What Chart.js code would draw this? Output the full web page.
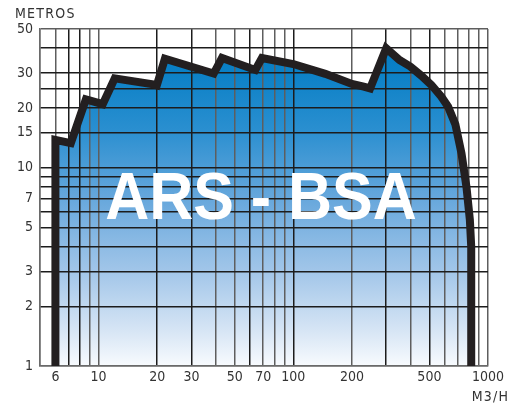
<!DOCTYPE html>
<html>
<head>
<meta charset="utf-8">
<script src="https://cdn.jsdelivr.net/npm/chart.js@4.4.1/dist/chart.umd.min.js"></script>
<style>
  html, body { margin: 0; padding: 0; background: #ffffff; }
  #wrap { position: relative; width: 518px; height: 405px; }
</style>
</head>
<body>
<div id="wrap"><canvas id="c" width="518" height="405"></canvas></div>
<script>
// Flow (M3/H) and head (METROS) along the outline of the ARS - BSA range
const flowM3h = [6, 6, 7.2, 8.6, 10.5, 12.1, 19.1, 19.9, 21.9, 39, 43, 63.8, 69, 100, 146, 200, 230, 248, 300, 351, 400, 454, 512, 576, 624, 680, 731, 775, 807, 820, 820];
const headM   = [1, 13.8, 13.3, 22.1, 20.9, 28.2, 26.3, 26, 35.4, 29.8, 35.7, 31.1, 35.7, 33.3, 29.7, 26.4, 25.6, 25.1, 40, 34.9, 32.3, 29.1, 26.1, 22.8, 20.3, 16.5, 11.8, 8, 5.45, 4, 1];

const xGridValues = [5, 6, 7, 8, 9, 10, 20, 30, 40, 50, 60, 70, 80, 90, 100, 200, 300, 400, 500, 600, 700, 800, 900, 1000];
const xTickLabels = [6, 10, 20, 30, 50, 70, 100, 200, 500, 1000];
const xGrayLines  = [5, 6, 9, 10, 40, 50, 70, 80, 90, 200, 400, 600, 700, 800, 900, 1000];

const yGridValues = [1, 2, 3, 4, 5, 6, 7, 8, 9, 10, 15, 20, 25, 30, 40, 50];
const yTickLabels = [1, 2, 3, 5, 7, 10, 15, 20, 30, 50];
const yGrayLines  = [1, 50];

const chartTitle = 'ARS - BSA';
const yAxisName = 'METROS';
const xAxisName = 'M3/H';

const tickFont = { family: "'DejaVu Sans Condensed', 'DejaVu Sans', sans-serif", size: 14 };

const textPlugin = {
  id: 'texts',
  afterDraw(chart) {
    const ctx = chart.ctx;
    ctx.save();
    ctx.fillStyle = '#333333';
    ctx.font = "14px 'DejaVu Sans Condensed', 'DejaVu Sans', sans-serif";
    ctx.textBaseline = 'middle';
    ctx.textAlign = 'left';
    ctx.fillText(yAxisName.split('').join(String.fromCharCode(8202)), 15, 14);
    ctx.textAlign = 'right';
    ctx.fillText(xAxisName.split('').join(String.fromCharCode(8202)), 508, 397);
    // big title
    ctx.translate(261, 199);
    ctx.scale(0.91, 1);
    ctx.fillStyle = '#ffffff';
    ctx.textAlign = 'center';
    ctx.textBaseline = 'middle';
    ctx.font = "bold 67px 'Liberation Sans', Arial, sans-serif";
    ctx.fillText(chartTitle, 0, 2);
    ctx.restore();
  }
};

function gridColor(grays) {
  return (c) => (c.tick && grays.includes(c.tick.value)) ? '#5e5e5e' : '#1c1c1c';
}

new Chart(document.getElementById('c'), {
  type: 'line',
  data: {
    datasets: [{
      data: flowM3h.map((x, i) => ({ x: x, y: headM[i] })),
      borderColor: '#231f20',
      borderWidth: 8,
      borderJoinStyle: 'miter',
      borderCapStyle: 'butt',
      pointRadius: 0,
      tension: 0,
      fill: 'start',
      backgroundColor: (context) => {
        const ch = context.chart;
        const a = ch.chartArea;
        if (!a) return '#3d91d2';
        const g = ch.ctx.createLinearGradient(0, a.top, 0, a.bottom);
        g.addColorStop(0, '#0079c2');
        g.addColorStop(0.12, '#0a80c6');
        g.addColorStop(0.3, '#2a8fd0');
        g.addColorStop(0.5, '#66a7dc');
        g.addColorStop(0.72, '#a2c6e9');
        g.addColorStop(0.9, '#d8e6f5');
        g.addColorStop(1, '#f8fbfe');
        return g;
      }
    }]
  },
  options: {
    responsive: false,
    animation: false,
    layout: { padding: { top: 29, right: 30, left: 0, bottom: 0 } },
    plugins: {
      legend: { display: false },
      tooltip: { enabled: false },
      filler: { drawTime: 'beforeDraw' }
    },
    scales: {
      x: {
        type: 'logarithmic',
        min: 5,
        max: 1000,
        afterBuildTicks: (s) => { s.ticks = xGridValues.map(v => ({ value: v })); },
        afterFit: (s) => { s.height = 39; },
        ticks: {
          autoSkip: false,
          maxRotation: 0,
          padding: 3,
          color: '#333333',
          font: tickFont,
          callback: (v) => xTickLabels.includes(v) ? String(v) : ''
        },
        grid: { drawTicks: false, lineWidth: 1.5, color: gridColor(xGrayLines) },
        border: { display: true, color: '#6a6a6a', width: 1.5 }
      },
      y: {
        type: 'logarithmic',
        min: 1,
        max: 50,
        afterBuildTicks: (s) => { s.ticks = yGridValues.map(v => ({ value: v })); },
        afterFit: (s) => { s.width = 40; },
        ticks: {
          autoSkip: false,
          padding: 7,
          color: '#333333',
          font: tickFont,
          callback: (v) => yTickLabels.includes(v) ? String(v) : ''
        },
        grid: { drawTicks: false, lineWidth: 1.5, color: gridColor(yGrayLines) },
        border: { display: true, color: '#6a6a6a', width: 1.5 }
      }
    }
  },
  plugins: [textPlugin]
});
</script>
</body>
</html>
